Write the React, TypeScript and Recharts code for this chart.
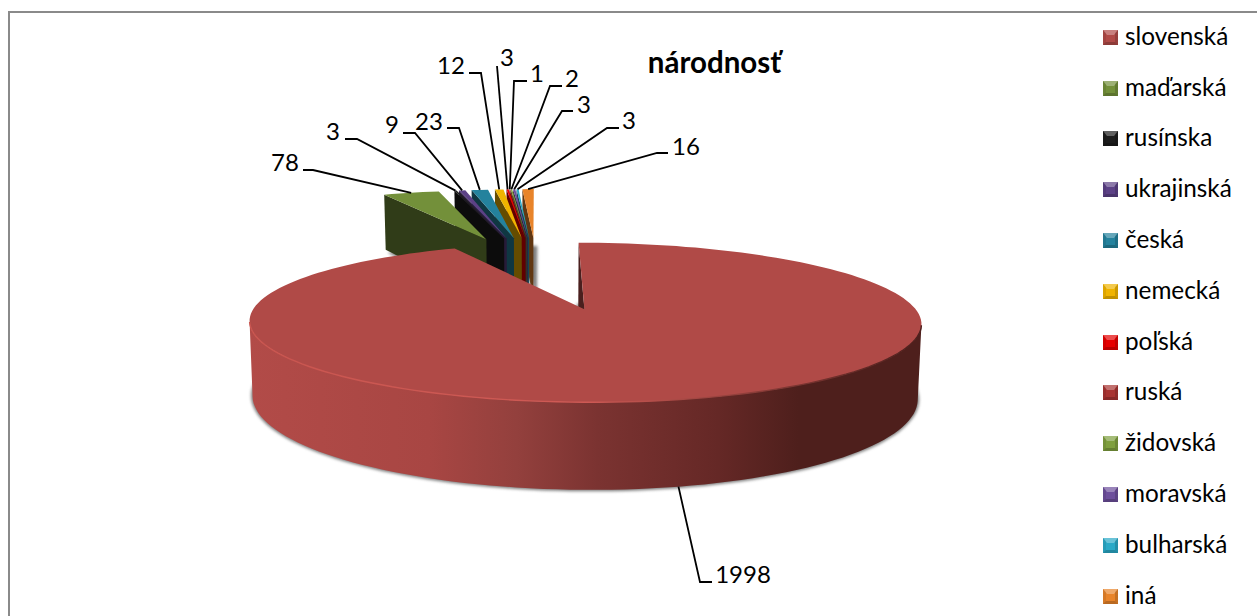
import React from 'react';
import { PieChart, Pie, Legend } from 'recharts';

const categories = ['slovenská', 'maďarská', 'rusínska', 'ukrajinská', 'česká', 'nemecká', 'poľská', 'ruská', 'židovská', 'moravská', 'bulharská', 'iná'];
const values = [1998, 78, 3, 9, 23, 12, 3, 1, 2, 3, 3, 16];
const colors = ['#b04a47', '#73903a', '#1c1c1c', '#5c4186', '#24829d', '#f0b400', '#e60000', '#a83432', '#7f9f3e', '#6d4f9c', '#2aa9c7', '#e8842a'];

// text spot plus elbow of each leader line, same order as categories
const labelSpots = [
  { tx: 743, ty: 573, ex: 700, ey: 582, sx: 712 },
  { tx: 285, ty: 161, ex: 313, ey: 170, sx: 303 },
  { tx: 333, ty: 130, ex: 357, ey: 139, sx: 345 },
  { tx: 392, ty: 123, ex: 415, ey: 133, sx: 403 },
  { tx: 429, ty: 120, ex: 459, ey: 128, sx: 447 },
  { tx: 451, ty: 64, ex: 481, ey: 73, sx: 469 },
  { tx: 507, ty: 56, ex: 497, ey: 66, sx: 497 },
  { tx: 537, ty: 72, ex: 514, ey: 81, sx: 527 },
  { tx: 572, ty: 77, ex: 550, ey: 86, sx: 562 },
  { tx: 584, ty: 103, ex: 562, ey: 111, sx: 573 },
  { tx: 629, ty: 119, ex: 607, ey: 128, sx: 619 },
  { tx: 686, ty: 145, ex: 657, ey: 153, sx: 668 },
];

const FONT = 'Lato, "Open Sans", sans-serif';
const TILT = 0.215;
const PERSPECTIVE = 0.153;
const EXPLODE = 0.55;
const THICKNESS = 0.2204;
const MAIN_SHIFT = 7;

// Excel paints the far slices first, so the table runs backwards and counter-clockwise
const tableData = categories
  .map((name, i) => ({ name, value: values[i], fill: colors[i] }))
  .reverse();

const shade = (hex: string, k: number) => {
  const n = parseInt(hex.slice(1), 16);
  const c = [(n >> 16) & 255, (n >> 8) & 255, n & 255].map((v) => Math.round(v * k));
  return `rgb(${c[0]},${c[1]},${c[2]})`;
};

const rad = (a: number) => (a * Math.PI) / 180;

const project = (cx: number, cy: number, r: number, u: number, v: number, low = false) => {
  const s = 1 / (1 + PERSPECTIVE * v);
  const x = u * r * s;
  return low
    ? { x: cx + x * 0.99, y: cy - r * TILT * v * s + r * THICKNESS * s }
    : { x: cx + x, y: cy - r * TILT * v * s };
};

const toPath = (pts: { x: number; y: number }[]) =>
  'M' + pts.map((p) => `${p.x.toFixed(1)},${p.y.toFixed(1)}`).join('L') + 'Z';

const Slice = (props: any) => {
  const { cx, cy, outerRadius: r, startAngle, endAngle, fill, name } = props;
  const isMain = name === categories[0];
  const x0 = isMain ? cx + MAIN_SHIFT : cx;
  const mid = rad((startAngle + endAngle) / 2);
  const eu = EXPLODE * Math.cos(mid);
  const ev = EXPLODE * Math.sin(mid);
  const rim = (a: number, low = false) =>
    project(x0, cy, r, eu + Math.cos(rad(a)), ev + Math.sin(rad(a)), low);
  const apex = project(x0, cy, r, eu, ev);
  const apexLow = project(x0, cy, r, eu, ev, true);

  const steps = Math.max(2, Math.ceil((endAngle - startAngle) / 2));
  const angles = Array.from({ length: steps + 1 }, (_, i) => startAngle + ((endAngle - startAngle) * i) / steps);
  const top = [apex, ...angles.map((a) => rim(a))];
  const foot = [apexLow, ...angles.map((a) => rim(a, true))];
  const face = [apex, rim(endAngle), rim(endAngle, true), apexLow];
  // the perspective pushes the silhouette a little past 180 and 360 degrees,
  // so the wall runs between the leftmost and rightmost rim points
  const front = angles.filter((a) => Math.sin(rad(a)) < 0.2);
  const rimX = front.map((a) => rim(a).x);
  const wallAngles = front.slice(rimX.indexOf(Math.min(...rimX)), rimX.indexOf(Math.max(...rimX)) + 1);
  const wall = [...wallAngles.map((a) => rim(a)), ...wallAngles.map((a) => rim(a, true)).reverse()];

  return (
    <g>
      {isMain && (
        <defs>
          <linearGradient id="wallFill" gradientUnits="userSpaceOnUse" x1={249} x2={919} y1={0} y2={0}>
            <stop offset="0" stopColor="#b24b48" />
            <stop offset="0.27" stopColor="#a84643" />
            <stop offset="0.4" stopColor="#93403d" />
            <stop offset="0.52" stopColor="#7b3331" />
            <stop offset="0.7" stopColor="#652826" />
            <stop offset="0.82" stopColor="#4e1f1c" />
            <stop offset="1" stopColor="#4e1f1c" />
          </linearGradient>
          <linearGradient id="rimLine" gradientUnits="userSpaceOnUse" x1={249} x2={919} y1={0} y2={0}>
            <stop offset="0" stopColor="#c9554f" />
            <stop offset="0.5" stopColor="#cf5a55" />
            <stop offset="0.75" stopColor="#8d3d39" />
            <stop offset="1" stopColor="#4e1f1c" />
          </linearGradient>
        </defs>
      )}
      <path
        d={toPath(foot)}
        fill="#7f7f7f"
        stroke="#7f7f7f"
        strokeWidth={isMain ? 3 : 1}
        transform={isMain ? 'translate(0,0)' : 'translate(3,3)'}
        style={{ filter: 'blur(1.6px)' }}
      />
      <path d={toPath(face)} fill={shade(isMain ? '#b04a47' : fill, 0.42)} />
      {wall.length > 0 && <path d={toPath(wall)} fill="url(#wallFill)" />}
      <path d={toPath(top)} fill={fill} />
      {wallAngles.length > 0 && (
        <polyline
          points={wallAngles.map((a) => `${rim(a).x.toFixed(1)},${rim(a).y.toFixed(1)}`).join(' ')}
          fill="none"
          stroke="url(#rimLine)"
          strokeWidth={1.4}
        />
      )}
    </g>
  );
};

const renderLabel = (props: any) => {
  const { cx, cy, outerRadius: r, midAngle, name, value } = props;
  const idx = categories.indexOf(name);
  const spot = labelSpots[idx];
  const isMain = idx === 0;
  const x0 = isMain ? cx + MAIN_SHIFT : cx;
  const a = rad(midAngle);
  const u = (EXPLODE + 1) * Math.cos(a);
  const v = (EXPLODE + 1) * Math.sin(a);
  const start = project(x0, cy, r, u, v, isMain);
  return (
    <g key={name}>
      <polyline
        points={`${start.x},${start.y} ${spot.ex},${spot.ey} ${spot.sx},${spot.ey}`}
        fill="none"
        stroke="#000"
        strokeWidth={1.8}
      />
      <text x={spot.tx} y={spot.ty} textAnchor="middle" dominantBaseline="central" fontFamily={FONT} fontSize={24} fill="#000">
        {value}
      </text>
    </g>
  );
};

const LegendMark = ({ color }: { color: string }) => (
  <svg width={15} height={15} style={{ display: 'block', flex: 'none' }}>
    <rect width={15} height={15} fill={color} />
    <polygon points="0,0 15,0 11,5 4,5" fill="#fff" opacity={0.3} />
    <polygon points="0,15 15,15 12,12 3,12" fill="#000" opacity={0.2} />
    <polygon points="0,0 3,3 3,12 0,15" fill="#000" opacity={0.08} />
    <polygon points="15,0 12,3 12,12 15,15" fill="#000" opacity={0.15} />
  </svg>
);

const renderLegend = () => (
  <div>
    {categories.map((name, i) => (
      <div key={name} style={{ display: 'flex', alignItems: 'center', height: 50.8, gap: 7, fontFamily: FONT, fontSize: 24.3, color: '#000', whiteSpace: 'nowrap' }}>
        <LegendMark color={colors[i]} />
        <span style={{ position: 'relative', top: -2 }}>{name}</span>
      </div>
    ))}
  </div>
);

export default function App() {
  return (
    <div style={{ position: 'absolute', left: 0, top: 0, width: 1257, height: 616, overflow: 'hidden', background: '#fff' }}>
      <div style={{ position: 'absolute', left: 8, top: 11, width: 1300, height: 700, borderLeft: '2px solid #8a8a8a', borderTop: '2px solid #8a8a8a' }} />
      <div style={{ position: 'absolute', left: 0, top: 0 }}>
        <PieChart width={1257} height={616} margin={{ top: 0, right: 0, bottom: 0, left: 0 }}>
          <text x={714.5} y={61} textAnchor="middle" dominantBaseline="central" fontFamily={FONT} fontWeight={700} fontSize={29.5} fill="#000">
            národnosť
          </text>
          <Pie
            data={tableData}
            dataKey="value"
            nameKey="name"
            cx={537}
            cy={271}
            outerRadius={304}
            startAngle={90}
            endAngle={450}
            stroke="none"
            shape={Slice}
            label={renderLabel}
            labelLine={false}
            isAnimationActive={false}
          />
          <Legend
            content={renderLegend}
            layout="vertical"
            align="right"
            verticalAlign="top"
            wrapperStyle={{ position: 'absolute', left: 1103, top: 12, width: 154 }}
          />
        </PieChart>
      </div>
    </div>
  );
}
